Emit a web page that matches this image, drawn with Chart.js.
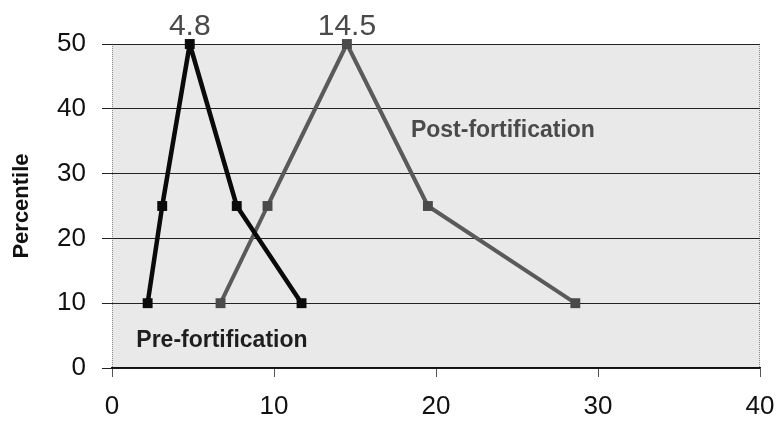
<!DOCTYPE html>
<html>
<head>
<meta charset="utf-8">
<script src="https://cdn.jsdelivr.net/npm/chart.js@4"></script>
<style>
html,body{margin:0;padding:0;background:#fff;}
#wrap{width:776px;height:427px;}
</style>
</head>
<body>
<div id="wrap"><canvas id="c" width="776" height="427"></canvas></div>
<script>
const preX = [2.2, 3.1, 4.8, 7.7, 11.7];
const preY = [10, 25, 50, 25, 10];
const postX = [6.7, 9.6, 14.5, 19.5, 28.6];
const postY = [10, 25, 50, 25, 10];
const xTicks = [0, 10, 20, 30, 40];
const yTicks = [0, 10, 20, 30, 40, 50];
const peakLabels = [{x: 4.8, text: '4.8'}, {x: 14.5, text: '14.5'}];
const seriesLabels = [
  {x: 1.5, y: 3.2, text: 'Pre-fortification', color: '#1e1e1e'},
  {x: 18.45, y: 35.6, text: 'Post-fortification', color: '#4a4a4a'}
];
const yTitle = 'Percentile';

const toPts = (xs, ys) => xs.map((v, i) => ({x: v, y: ys[i]}));

const deco = {
  id: 'deco',
  beforeDraw(chart) {
    const {ctx, chartArea: a} = chart;
    ctx.save();
    ctx.fillStyle = '#e9e9e9';
    ctx.fillRect(a.left, a.top, a.right - a.left, a.bottom - a.top);
    ctx.strokeStyle = '#8a8a8a';
    ctx.lineWidth = 1;
    ctx.setLineDash([1, 1]);
    ctx.beginPath();
    ctx.moveTo(a.left + 0.5, a.top); ctx.lineTo(a.left + 0.5, a.bottom);
    ctx.moveTo(a.right - 0.5, a.top); ctx.lineTo(a.right - 0.5, a.bottom);
    ctx.stroke();
    ctx.restore();
  },
  afterDraw(chart) {
    const {ctx, chartArea: a, scales: {x, y}} = chart;
    ctx.save();
    ctx.fillStyle = '#4a4a4a';
    ctx.font = '30px "Liberation Sans", Arial, sans-serif';
    ctx.textAlign = 'center';
    ctx.textBaseline = 'alphabetic';
    peakLabels.forEach(p => ctx.fillText(p.text, x.getPixelForValue(p.x), a.top - 9));
    ctx.font = 'bold 23px "Liberation Sans", Arial, sans-serif';
    ctx.textAlign = 'left';
    seriesLabels.forEach(s => {
      ctx.fillStyle = s.color;
      ctx.fillText(s.text, x.getPixelForValue(s.x), y.getPixelForValue(s.y));
    });
    ctx.translate(22, (a.top + a.bottom) / 2);
    ctx.rotate(-Math.PI / 2);
    ctx.textAlign = 'center';
    ctx.textBaseline = 'middle';
    ctx.fillStyle = '#111';
    ctx.font = 'bold 22px "Liberation Sans", Arial, sans-serif';
    ctx.fillText(yTitle, 0, 0);
    ctx.restore();
  }
};

new Chart(document.getElementById('c'), {
  type: 'scatter',
  data: {
    datasets: [
      {
        label: 'Pre-fortification',
        data: toPts(preX, preY),
        showLine: true,
        clip: false,
        borderColor: '#0a0a0a',
        backgroundColor: '#0a0a0a',
        borderWidth: 4.5,
        borderJoinStyle: 'bevel',
        pointStyle: 'rect',
        pointRadius: 7,
        pointBorderWidth: 0,
        tension: 0
      },
      {
        label: 'Post-fortification',
        data: toPts(postX, postY),
        showLine: true,
        clip: false,
        borderColor: '#5a5a5a',
        backgroundColor: '#4a4a4a',
        borderWidth: 4,
        borderJoinStyle: 'bevel',
        pointStyle: 'rect',
        pointRadius: 7,
        pointBorderWidth: 0,
        tension: 0
      }
    ]
  },
  options: {
    responsive: false,
    animation: false,
    devicePixelRatio: 1,
    layout: {padding: {top: 44, right: 16, left: 0, bottom: 0}},
    plugins: {legend: {display: false}, tooltip: {enabled: false}},
    scales: {
      x: {
        type: 'linear',
        min: 0, max: 40,
        afterBuildTicks: s => { s.ticks = xTicks.map(v => ({value: v})); },
        afterFit: s => { s.height = 59; s.paddingLeft = 0; s.paddingRight = 0; },
        ticks: {
          color: '#111',
          font: {family: '"Liberation Sans", Arial, sans-serif', size: 26},
          padding: 14,
          maxRotation: 0
        },
        grid: {drawOnChartArea: false, drawTicks: true, tickLength: 9, color: '#555'},
        border: {display: true, color: '#111', width: 1.5}
      },
      y: {
        type: 'linear',
        min: 0, max: 50,
        afterBuildTicks: s => { s.ticks = yTicks.map(v => ({value: v})); },
        afterFit: s => { s.width = 112; },
        ticks: {
          color: '#111',
          font: {family: '"Liberation Sans", Arial, sans-serif', size: 26},
          padding: 16
        },
        grid: {color: '#222', lineWidth: 1, drawTicks: true, tickLength: 10},
        border: {display: false}
      }
    }
  },
  plugins: [deco]
});
</script>
</body>
</html>
